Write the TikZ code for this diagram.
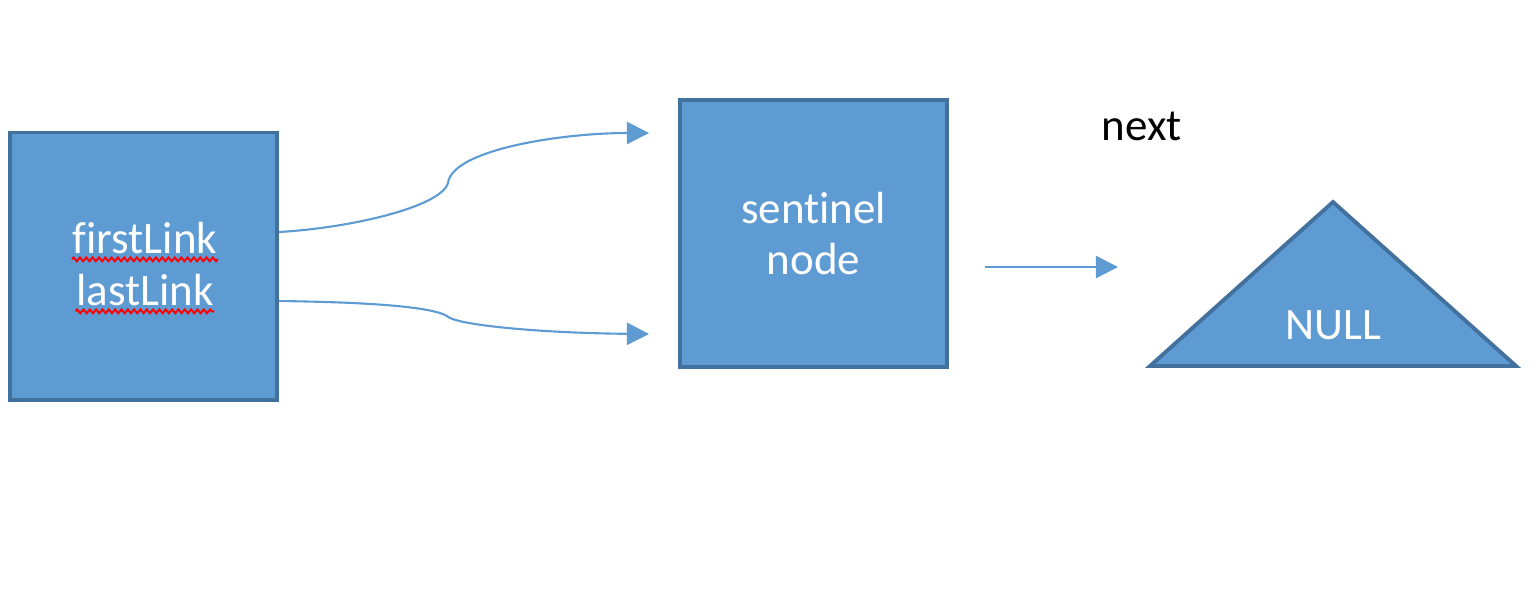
\documentclass[tikz,border=0pt]{standalone}
\usepackage{fontspec}
\setmainfont[Ligatures=NoCommon]{Carlito}
\usetikzlibrary{shapes,arrows.meta,decorations.pathmorphing}
\definecolor{boxfill}{RGB}{94,155,211}
\definecolor{boxline}{RGB}{65,113,156}
\tikzstyle{block} = [draw=boxline, fill=boxfill, rectangle, line width=1.1pt,
    minimum width=2.67cm, minimum height=2.67cm, text=white, align=center,
    font=\fontsize{12.8}{14.6}\selectfont]
\tikzstyle{boxtext} = [text=white, inner sep=0pt, font=\fontsize{12.8}{14.6}\selectfont]
\tikzstyle{pointer} = [draw=boxfill, line width=0.6pt, -{Triangle[length=6.3pt,width=6.3pt]}]
\tikzstyle{spell} = [draw=red, line width=0.55pt, decorate,
    decoration={zigzag, amplitude=0.55pt, segment length=1.8pt}]

\begin{document}
\begin{tikzpicture}[x=0.01cm, y=-0.01cm]

\useasboundingbox (0,0) rectangle (1540,608);

\node [block] (links) at (143.5,266) {};
\node [boxtext, anchor=base] (first) at (145,253) {firstLink};
\node [boxtext, anchor=base] (last) at (145,305) {lastLink};
\draw [spell] ([yshift=-1.8pt]first.base west) -- ([yshift=-1.8pt]first.base east);
\draw [spell] ([yshift=-1.8pt]last.base west) -- ([yshift=-1.8pt]last.base east);

\node [block] (sentinel) at (813.5,233.5) {sentinel\\node};

\draw [draw=boxline, fill=boxfill, line width=1.1pt] (1333,202) -- (1516,366) -- (1150,366) -- cycle;
\node [boxtext] (null) at (1333,325) {NULL};

\node [anchor=base, inner sep=0pt, font=\fontsize{12.8}{14.6}\selectfont] (next) at (1142,140) {next};

\coordinate (firstend) at (649,133);
\coordinate (lastend) at (649,334);
\coordinate (nextstart) at (985,267);
\coordinate (nextend) at (1118,267);

\draw [pointer] ([yshift=0.34cm]links.east) .. controls (350,228) and (441,207) .. (448,183)
    .. controls (452,150) and (560,133) .. (firstend);
\draw [pointer] ([yshift=-0.35cm]links.east) .. controls (360,302) and (430,306) .. (447,316)
    .. controls (455,325) and (540,333) .. (lastend);
\draw [pointer] (nextstart) -- (nextend);

\end{tikzpicture}
\end{document}
